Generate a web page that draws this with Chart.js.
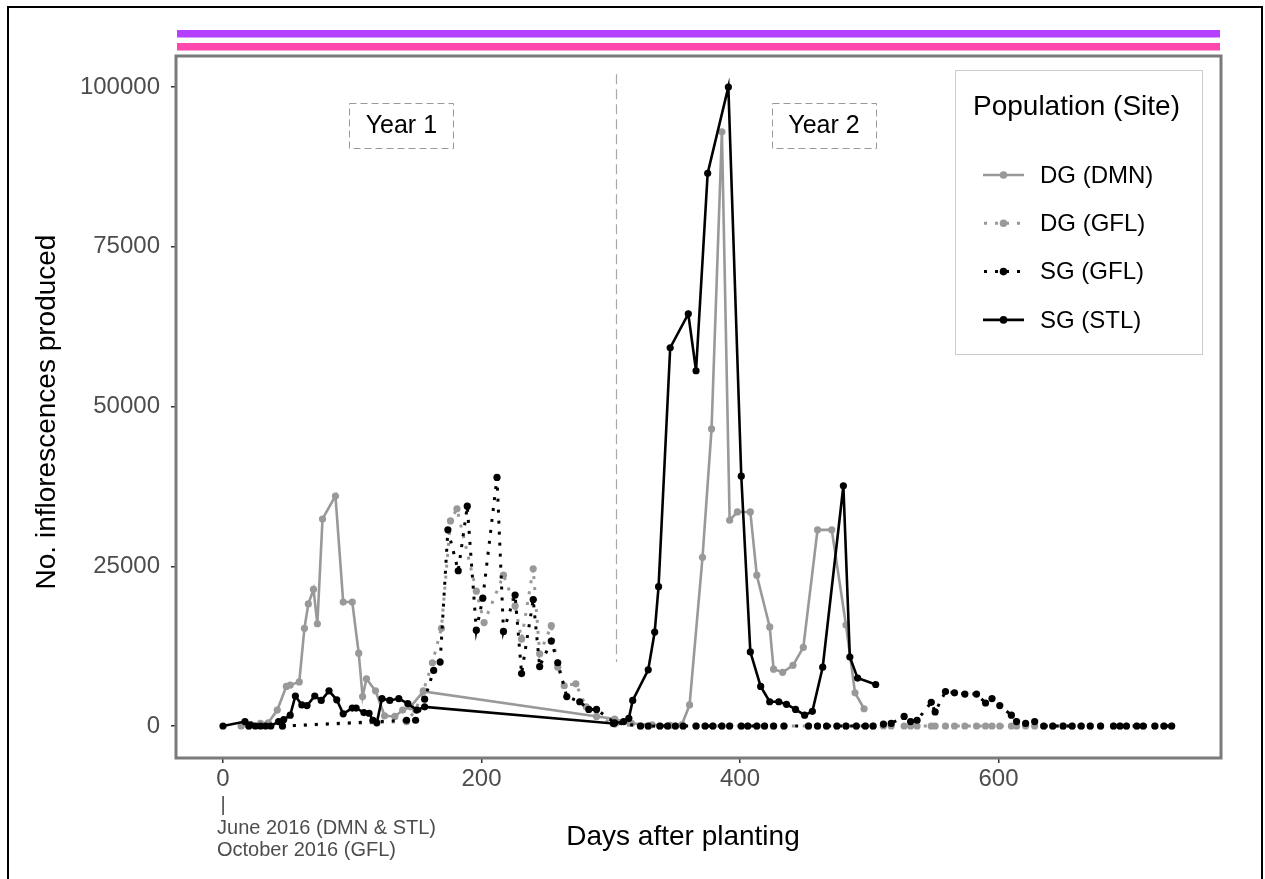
<!DOCTYPE html>
<html>
<head>
<meta charset="utf-8">
<script src="https://cdn.jsdelivr.net/npm/chart.js@4.4.1/dist/chart.umd.min.js"></script>
<style>
  html, body { margin: 0; padding: 0; background: #fff; }
  canvas { display: block; }
</style>
</head>
<body>
<canvas id="flowerChart" width="1265" height="879"></canvas>
<script>
// inflorescence counts by days after planting, one pair of arrays per population (site)

const dmnDays = [14, 22, 29, 35, 42, 49, 52, 59, 63, 66, 70, 73, 77, 87, 93, 100, 105, 108, 111, 118, 125, 133, 139, 145, 155,
  303, 316, 332, 346, 355, 361, 371, 378, 386, 392, 398, 408, 413, 423, 426, 433, 441, 449, 460, 471, 482, 489, 496];
const dmnCounts = [0, 200, 400, 500, 2500, 6200, 6400, 6900, 15300, 19100, 21400, 16000, 32400, 36000, 19400, 19400, 11400, 4600, 7400, 5500, 1600, 1500, 2500, 3000, 5400,
  1100, 400, 200, 100, 200, 3300, 26400, 46500, 93000, 32200, 33500, 33500, 23600, 15500, 8900, 8400, 9500, 12300, 30700, 30700, 15800, 5200, 2700];

const dgGflDays = [20, 46, 142, 149, 155, 162, 169, 176, 181, 196, 202, 217, 226, 231, 240, 245, 254, 259, 264, 273, 281, 289, 303,
  323, 329, 338, 344, 350, 356, 366, 373, 379, 386, 392, 401, 406, 413, 419, 426, 434, 453, 460, 467, 475, 482, 490, 497, 503,
  511, 517, 527, 532, 537, 548, 551, 559, 566, 574, 583, 590, 595, 601, 610, 614, 621, 628, 635,
  642, 650, 657, 664, 671, 679, 689, 694, 699, 707, 712, 721, 728, 734];
const dgGflCounts = [0, 0, 700, 2500, 5500, 9900, 15300, 32100, 34000, 21100, 16200, 23600, 18800, 13600, 24600, 11300, 15700, 9200, 6300, 6600, 3000, 1500, 300,
  0, 0, 0, 0, 0, 0, 0, 0, 0, 0, 0, 0, 0, 0, 0, 0, 0, 0, 0, 0, 0, 0, 0, 0, 0,
  0, 0, 0, 0, 0, 0, 0, 0, 0, 0, 0, 0, 0, 0, 0, 0, 0, 0, 0,
  0, 0, 0, 0, 0, 0, 0, 0, 0, 0, 0, 0, 0, 0];

const sgGflDays = [20, 46, 142, 149, 156, 163, 168, 174, 182, 189, 196, 201, 212, 217, 226, 231, 240, 245, 254, 259, 266, 276, 283, 289, 303,
  323, 329, 338, 344, 350, 356, 366, 373, 379, 386, 392, 401, 406, 413, 419, 426, 434, 453, 460, 467, 475, 482, 490, 497, 503,
  511, 517, 527, 532, 537, 548, 551, 559, 566, 574, 583, 590, 595, 601, 610, 614, 621, 628, 635,
  642, 650, 657, 664, 671, 679, 689, 694, 699, 707, 712, 721, 728, 734];
const sgGflCounts = [0, 0, 900, 900, 4200, 8700, 10000, 30700, 24300, 34400, 15000, 20000, 38900, 14800, 20500, 8200, 19800, 9300, 13300, 9900, 4600, 3800, 2600, 2600, 500,
  0, 0, 0, 0, 0, 0, 0, 0, 0, 0, 0, 0, 0, 0, 0, 0, 0, 0, 0, 0, 0, 0, 0, 0, 0,
  300, 400, 1500, 700, 900, 3700, 2200, 5400, 5200, 5000, 5000, 3600, 4300, 3200, 1700, 700, 400, 700, 0,
  0, 0, 0, 0, 0, 0, 0, 0, 0, 0, 0, 0, 0, 0];

const stlDays = [0, 17, 21, 25, 29, 33, 37, 43, 47, 52, 56, 61, 65, 71, 76, 82, 88, 93, 100, 103, 109, 113, 116, 119, 123, 129, 136, 143, 150, 156,
  302, 310, 314, 317, 329, 334, 337, 346, 360, 366, 375, 391, 401, 408, 416, 423, 430, 436, 443, 450, 456, 464, 480, 485, 491, 505];
const stlCounts = [0, 700, 200, 0, 0, 0, 0, 700, 1000, 1700, 4700, 3300, 3200, 4700, 4000, 5500, 4100, 1900, 2800, 2800, 2100, 2000, 900, 500, 4300, 4000, 4300, 3500, 2500, 3000,
  400, 700, 1200, 4000, 8800, 14700, 21800, 59200, 64500, 55600, 86500, 100000, 39100, 11600, 6200, 3800, 3800, 3400, 2600, 1700, 2300, 9200, 37600, 10800, 7500, 6500];

const seriesNames = ['DG (DMN)', 'DG (GFL)', 'SG (GFL)', 'SG (STL)'];
const xTicks = [0, 200, 400, 600];
const yTicks = [0, 25000, 50000, 75000, 100000];
const yearLabels = ['Year 1', 'Year 2'];
const yearLabelDays = [138, 465];
const yearLabelCount = 94000;
const yearSplitDay = 304;
const plantingNote = ['|', 'June 2016 (DMN & STL)', 'October 2016 (GFL)'];

const FONT = "'Liberation Sans', Arial, Helvetica, sans-serif";
const GREY = '#999999';
const DOT = [3, 8];

function toPoints(days, counts) {
  return days.map((d, i) => ({ x: d, y: counts[i] }));
}

function series(label, days, counts, color, dotted, order) {
  return {
    label: label,
    data: toPoints(days, counts),
    showLine: true,
    borderColor: color,
    backgroundColor: color,
    borderWidth: dotted ? 3 : 2.6,
    borderDash: dotted ? DOT : [],
    borderCapStyle: 'butt',
    pointRadius: 3.6,
    pointBorderWidth: 0,
    pointBackgroundColor: color,
    order: order,
  };
}

const datasets = [
  series(seriesNames[0], dmnDays, dmnCounts, GREY, false, 3),
  series(seriesNames[1], dgGflDays, dgGflCounts, GREY, true, 2),
  series(seriesNames[2], sgGflDays, sgGflCounts, '#000000', true, 1),
  series(seriesNames[3], stlDays, stlCounts, '#000000', false, 0),
];

// everything ggplot draws around the panel: strips, frame, legend, titles, notes
const decor = {
  id: 'decor',
  beforeDraw(chart) {
    const ctx = chart.ctx;
    ctx.save();
    ctx.fillStyle = '#ffffff';
    ctx.fillRect(0, 0, chart.width, chart.height);
    ctx.restore();
  },
  beforeDatasetsDraw(chart) {
    const { ctx, scales: { x, y } } = chart;
    ctx.save();
    // year divider
    const vx = Math.round(x.getPixelForValue(yearSplitDay)) + 0.5;
    ctx.strokeStyle = '#a8a8a8';
    ctx.lineWidth = 1.2;
    ctx.setLineDash([10, 5]);
    ctx.beginPath();
    ctx.moveTo(vx, y.getPixelForValue(102000));
    ctx.lineTo(vx, y.getPixelForValue(10000));
    ctx.stroke();

    // year boxes
    ctx.setLineDash([7, 4]);
    ctx.lineWidth = 1;
    ctx.strokeStyle = '#999999';
    ctx.font = '25px ' + FONT;
    ctx.fillStyle = '#000000';
    ctx.textAlign = 'center';
    ctx.textBaseline = 'middle';
    yearLabels.forEach((txt, i) => {
      const cx = x.getPixelForValue(yearLabelDays[i]);
      const cy = y.getPixelForValue(yearLabelCount);
      ctx.strokeRect(Math.round(cx - 52) + 0.5, Math.round(cy - 22) + 0.5, 104, 45);
      ctx.fillText(txt, cx, cy + 1);
    });
    ctx.restore();
  },
  afterDraw(chart) {
    const { ctx, chartArea: a, scales: { x } } = chart;
    ctx.save();

    // panel border
    ctx.strokeStyle = '#7a7a7a';
    ctx.lineWidth = 3;
    ctx.strokeRect(a.left - 1, a.top - 1, a.right - a.left + 2, a.bottom - a.top + 2);

    // colour strips above the panel
    ctx.fillStyle = '#b53fff';
    ctx.fillRect(a.left, 30, a.right - a.left, 7.5);
    ctx.fillStyle = '#ff47ae';
    ctx.fillRect(a.left, 43, a.right - a.left, 7.5);

    // outer frame of the figure
    ctx.strokeStyle = '#000000';
    ctx.lineWidth = 2;
    ctx.beginPath();
    ctx.moveTo(8, chart.height);
    ctx.lineTo(8, 7);
    ctx.lineTo(1262, 7);
    ctx.lineTo(1262, chart.height);
    ctx.stroke();

    // legend
    ctx.strokeStyle = '#cccccc';
    ctx.lineWidth = 1;
    ctx.strokeRect(955.5, 70.5, 247, 284);
    ctx.fillStyle = '#000000';
    ctx.textAlign = 'left';
    ctx.textBaseline = 'middle';
    ctx.font = '28px ' + FONT;
    ctx.fillText('Population (Site)', 973, 107);
    ctx.font = '24px ' + FONT;
    seriesNames.forEach((name, i) => {
      const ds = chart.data.datasets[i];
      const ly = 175 + i * 48.3;
      ctx.strokeStyle = ds.borderColor;
      ctx.lineWidth = ds.borderWidth;
      ctx.setLineDash(ds.borderDash);
      ctx.lineDashOffset = ds.borderDash.length ? -1 : 0;
      ctx.beginPath();
      ctx.moveTo(983, ly);
      ctx.lineTo(1024, ly);
      ctx.stroke();
      ctx.setLineDash([]);
      ctx.fillStyle = ds.pointBackgroundColor;
      ctx.beginPath();
      ctx.arc(1003.5, ly, 3.8, 0, Math.PI * 2);
      ctx.fill();
      ctx.fillStyle = '#000000';
      ctx.fillText(name, 1040, ly + 1);
    });

    // axis titles
    ctx.font = '28px ' + FONT;
    ctx.textAlign = 'center';
    ctx.fillText('Days after planting', 683, 837);
    ctx.translate(47, 412);
    ctx.rotate(-Math.PI / 2);
    ctx.fillText('No. inflorescences produced', 0, 0);
    ctx.setTransform(1, 0, 0, 1, 0, 0);

    // planting date note under day 0
    const zx = x.getPixelForValue(0);
    ctx.fillStyle = '#4d4d4d';
    ctx.font = '20px ' + FONT;
    ctx.fillText(plantingNote[0], zx, 805);
    ctx.textAlign = 'left';
    ctx.fillText(plantingNote[1], zx - 6, 828);
    ctx.fillText(plantingNote[2], zx - 6, 850);
    ctx.restore();
  },
};

const tickFont = { family: FONT, size: 24 };

new Chart(document.getElementById('flowerChart'), {
  type: 'scatter',
  data: { datasets: datasets },
  options: {
    responsive: false,
    animation: false,
    devicePixelRatio: 1,
    layout: { padding: { top: 57, right: 45, bottom: 0, left: 0 } },
    plugins: {
      legend: { display: false },
      tooltip: { enabled: false },
    },
    scales: {
      x: {
        type: 'linear',
        min: -35.6,
        max: 771.4,
        afterBuildTicks: (scale) => { scale.ticks = xTicks.map((v) => ({ value: v })); },
        afterFit: (scale) => { scale.height = 122; },
        grid: { drawOnChartArea: false, drawTicks: true, tickLength: 6, color: '#333333', lineWidth: 1.5 },
        border: { display: false },
        ticks: { font: tickFont, color: '#4d4d4d', padding: 2, maxRotation: 0, autoSkip: false, callback: (v) => String(v) },
      },
      y: {
        type: 'linear',
        min: -4850,
        max: 104700,
        afterBuildTicks: (scale) => { scale.ticks = yTicks.map((v) => ({ value: v })); },
        afterFit: (scale) => { scale.width = 177; },
        grid: { drawOnChartArea: false, drawTicks: true, tickLength: 6, color: '#333333', lineWidth: 1.5 },
        border: { display: false },
        ticks: { font: tickFont, color: '#4d4d4d', padding: 11, autoSkip: false, callback: (v) => String(v) },
      },
    },
  },
  plugins: [decor],
});
</script>
</body>
</html>
